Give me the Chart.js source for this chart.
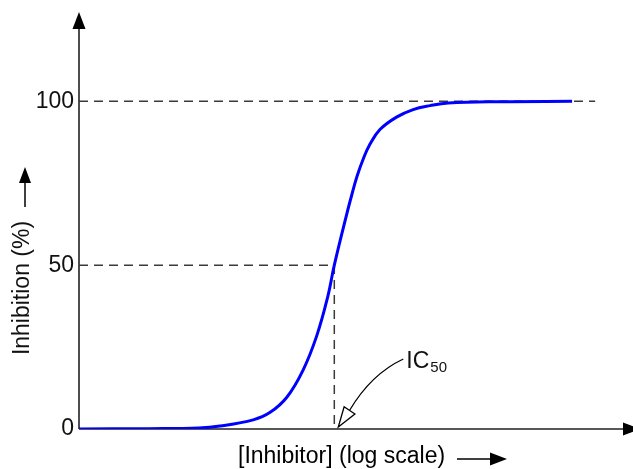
<!DOCTYPE html>
<html>
<head>
<meta charset="utf-8">
<script src="https://cdn.jsdelivr.net/npm/chart.js@4.4.0/dist/chart.umd.min.js"></script>
<style>
html, body { margin: 0; padding: 0; background: #fff; }
#wrap { width: 633px; height: 469px; }
</style>
</head>
<body>
<div id="wrap"><canvas id="ic50Chart"></canvas></div>
<script>
// log[inhibitor] (arbitrary units) and % inhibition
var logConc = [0, 1.5, 2.6, 3.06, 3.78, 4.14, 4.51, 4.86, 5.16, 5.40, 5.54, 5.81, 5.92, 6.03, 6.17, 6.31, 6.53, 6.89, 7.25, 7.62, 8.01, 9.14, 10.7];
var inhibition = [0, 0.1, 0.3, 0.9, 2.8, 5.0, 9.7, 17.9, 28.5, 40.5, 50, 65.6, 71.5, 77.0, 82.5, 86.8, 91.4, 95.2, 97.5, 98.7, 99.5, 99.9, 100];
var yTicks = [0, 50, 100];
var ic50 = 5.54;
var topLineEnd = 11.2;
var xRange = [0, 12];
var yRange = [0, 125.2];

var FONT = '"Liberation Sans", Arial, sans-serif';

var curvePoints = logConc.map(function (x, i) {
    return { x: x, y: inhibition[i] };
});

function arrowHead(ctx, tipX, tipY, dx, dy, len, half, fillStyle) {
    var bx = tipX - dx * len, by = tipY - dy * len;
    ctx.beginPath();
    ctx.moveTo(tipX, tipY);
    ctx.lineTo(bx - dy * half, by + dx * half);
    ctx.lineTo(bx + dy * half, by - dx * half);
    ctx.closePath();
    ctx.fillStyle = fillStyle;
    ctx.fill();
}

// axes with arrow heads + axis titles (drawn under the curve)
var axesPlugin = {
    id: 'arrowAxes',
    beforeDatasetsDraw: function (chart) {
        var ctx = chart.ctx;
        var area = chart.chartArea;
        var y0 = chart.scales.y.getPixelForValue(0);
        ctx.save();
        ctx.strokeStyle = '#222';
        ctx.lineWidth = 1.6;
        ctx.beginPath();
        ctx.moveTo(area.left, y0);
        ctx.lineTo(625, y0);
        ctx.moveTo(area.left, y0);
        ctx.lineTo(area.left, 27);
        ctx.stroke();
        arrowHead(ctx, 640, y0, 1, 0, 17, 6.5, '#000');
        arrowHead(ctx, area.left, 12, 0, -1, 17, 6.5, '#000');

        // y title
        ctx.fillStyle = '#111';
        ctx.font = '23px ' + FONT;
        ctx.save();
        ctx.translate(29, 288);
        ctx.rotate(-Math.PI / 2);
        ctx.textAlign = 'center';
        ctx.textBaseline = 'alphabetic';
        ctx.fillText('Inhibition (%)', 0, 0);
        ctx.restore();
        ctx.strokeStyle = '#000';
        ctx.lineWidth = 1.5;
        ctx.beginPath();
        ctx.moveTo(25, 207);
        ctx.lineTo(25, 182);
        ctx.stroke();
        arrowHead(ctx, 25, 167, 0, -1, 16, 6, '#000');

        // x title
        ctx.textAlign = 'left';
        ctx.fillText('[Inhibitor] (log scale)', 238, 463);
        ctx.beginPath();
        ctx.moveTo(457, 459);
        ctx.lineTo(492, 459);
        ctx.stroke();
        arrowHead(ctx, 507, 459, 1, 0, 17, 6.5, '#000');
        ctx.restore();
    },
    afterDatasetsDraw: function (chart) {
        var ctx = chart.ctx;
        var px = chart.scales.x.getPixelForValue(ic50);
        var py = chart.scales.y.getPixelForValue(0);
        ctx.save();
        // IC50 label
        ctx.fillStyle = '#111';
        ctx.textAlign = 'left';
        ctx.font = '23px ' + FONT;
        ctx.fillText('IC', px + 72, py - 61);
        var w = ctx.measureText('IC').width;
        ctx.font = '15px ' + FONT;
        ctx.fillText('50', px + 73 + w, py - 57);

        // curved pointer with open head
        var tipX = px + 4, tipY = py - 2;
        var endX = px + 15.5, endY = py - 19;
        ctx.strokeStyle = '#000';
        ctx.lineWidth = 1.3;
        ctx.beginPath();
        ctx.moveTo(px + 69, py - 70);
        ctx.quadraticCurveTo(px + 37, py - 55, endX, endY);
        ctx.stroke();
        var dx = tipX - endX, dy = tipY - endY;
        var len = Math.sqrt(dx * dx + dy * dy);
        dx /= len; dy /= len;
        var bx = tipX - dx * 20, by = tipY - dy * 20;
        ctx.beginPath();
        ctx.moveTo(tipX, tipY);
        ctx.lineTo(bx - dy * 6.5, by + dx * 6.5);
        ctx.lineTo(bx + dy * 6.5, by - dx * 6.5);
        ctx.closePath();
        ctx.fillStyle = '#fff';
        ctx.fill();
        ctx.stroke();
        ctx.restore();
    }
};

new Chart(document.getElementById('ic50Chart'), {
    type: 'line',
    data: {
        datasets: [{
            label: 'Inhibition',
            data: curvePoints,
            borderColor: '#0000ff',
            borderWidth: 3,
            pointRadius: 0,
            tension: 0.4,
            fill: false
        }, {
            label: '100 %',
            data: [{ x: xRange[0], y: 100 }, { x: topLineEnd, y: 100 }],
            borderColor: '#3a3a3a',
            borderWidth: 1.5,
            borderDash: [9, 6],
            pointRadius: 0
        }, {
            label: '50 %',
            data: [{ x: xRange[0], y: 50 }, { x: ic50, y: 50 }, { x: ic50, y: 0 }],
            borderColor: '#3a3a3a',
            borderWidth: 1.5,
            borderDash: [9, 6],
            pointRadius: 0
        }]
    },
    options: {
        responsive: true,
        maintainAspectRatio: false,
        animation: false,
        layout: { padding: { top: 12, right: 1, left: 0, bottom: 0 } },
        plugins: {
            legend: { display: false },
            tooltip: { enabled: false }
        },
        scales: {
            x: {
                type: 'linear',
                min: xRange[0],
                max: xRange[1],
                grid: { display: false, drawTicks: false },
                border: { display: false },
                ticks: { display: false },
                afterFit: function (scale) { scale.height = 40; }
            },
            y: {
                type: 'linear',
                min: yRange[0],
                max: yRange[1],
                grid: { display: false, drawTicks: false },
                border: { display: false },
                afterBuildTicks: function (scale) {
                    scale.ticks = yTicks.map(function (v) { return { value: v }; });
                },
                ticks: {
                    padding: 5,
                    color: '#111',
                    font: { family: FONT, size: 23 }
                },
                afterFit: function (scale) { scale.width = 79; }
            }
        }
    },
    plugins: [axesPlugin]
});
</script>
</body>
</html>
